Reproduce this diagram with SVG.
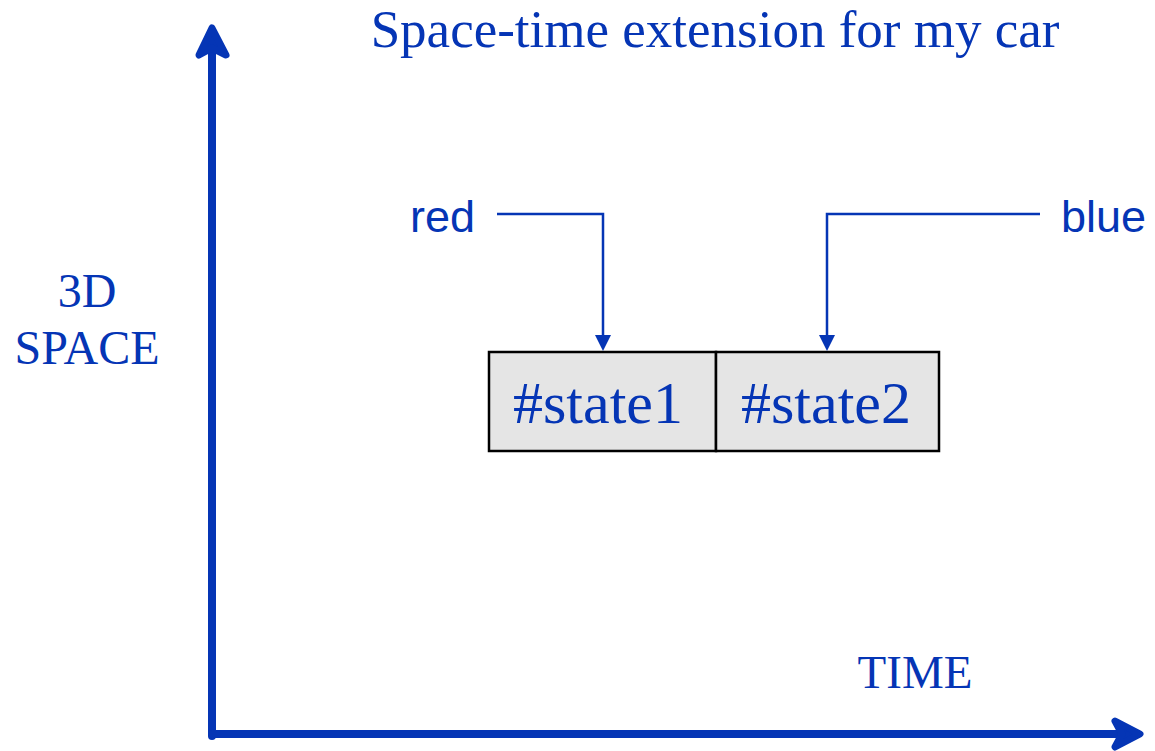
<svg xmlns="http://www.w3.org/2000/svg" width="1155" height="751" viewBox="0 0 1155 751">
<style>
.serif{font-family:"Liberation Serif","Times New Roman",serif;fill:#0535b5}
.sans{font-family:"Liberation Sans",Arial,sans-serif;fill:#0535b5}
.axis{stroke:#0535b5;stroke-width:8;fill:none;stroke-linecap:round;stroke-linejoin:round}
.head{stroke:#0535b5;stroke-width:7;fill:#0535b5;stroke-linejoin:round;stroke-linecap:round}
.conn{stroke:#0535b5;stroke-width:2.5;fill:none}
.tip{fill:#0535b5}
.box{fill:#e5e5e5;stroke:#000;stroke-width:2.5}
</style>
<rect width="1155" height="751" fill="#fff"/>
<g id="axes">
<line class="axis" x1="212" y1="40" x2="212" y2="736"/>
<line class="axis" x1="212" y1="734" x2="1132" y2="734"/>
<path class="head" d="M199,55 L212,28 L226,55 L212,48 Z"/>
<path class="head" d="M1115,721 L1140,734 L1115,747 L1122,734 Z"/>
</g>
<g id="title"><text class="serif" x="715" y="47" font-size="53" text-anchor="middle">Space-time extension for my car</text></g>
<g id="space-label"><text class="serif" x="87" y="307" font-size="48" text-anchor="middle">3D</text><text class="serif" x="87" y="364" font-size="48" text-anchor="middle">SPACE</text></g>
<g id="time-label"><text class="serif" x="915" y="688" font-size="47" text-anchor="middle">TIME</text></g>
<g id="state1"><rect class="box" x="489" y="352" width="227" height="99"/><text font-family="'Liberation Serif','Times New Roman',serif" fill="#0535b5" x="598" y="423" font-size="60" text-anchor="middle">#state1</text></g>
<g id="state2"><rect class="box" x="716" y="352" width="223" height="99"/><text font-family="'Liberation Serif','Times New Roman',serif" fill="#0535b5" x="826" y="423" font-size="60" text-anchor="middle">#state2</text></g>
<g id="red"><text class="sans" x="410" y="232" font-size="45">red</text></g>
<g id="blue"><text class="sans" x="1061" y="232" font-size="45">blue</text></g>
<g id="connectors">
<path d="M497,214 H603 V336" class="conn"/>
<path class="tip" d="M595,335 L611,335 L603,351 Z"/>
<path d="M1040,214 H827 V336" class="conn"/>
<path class="tip" d="M819,335 L835,335 L827,351 Z"/>
</g>
</svg>
